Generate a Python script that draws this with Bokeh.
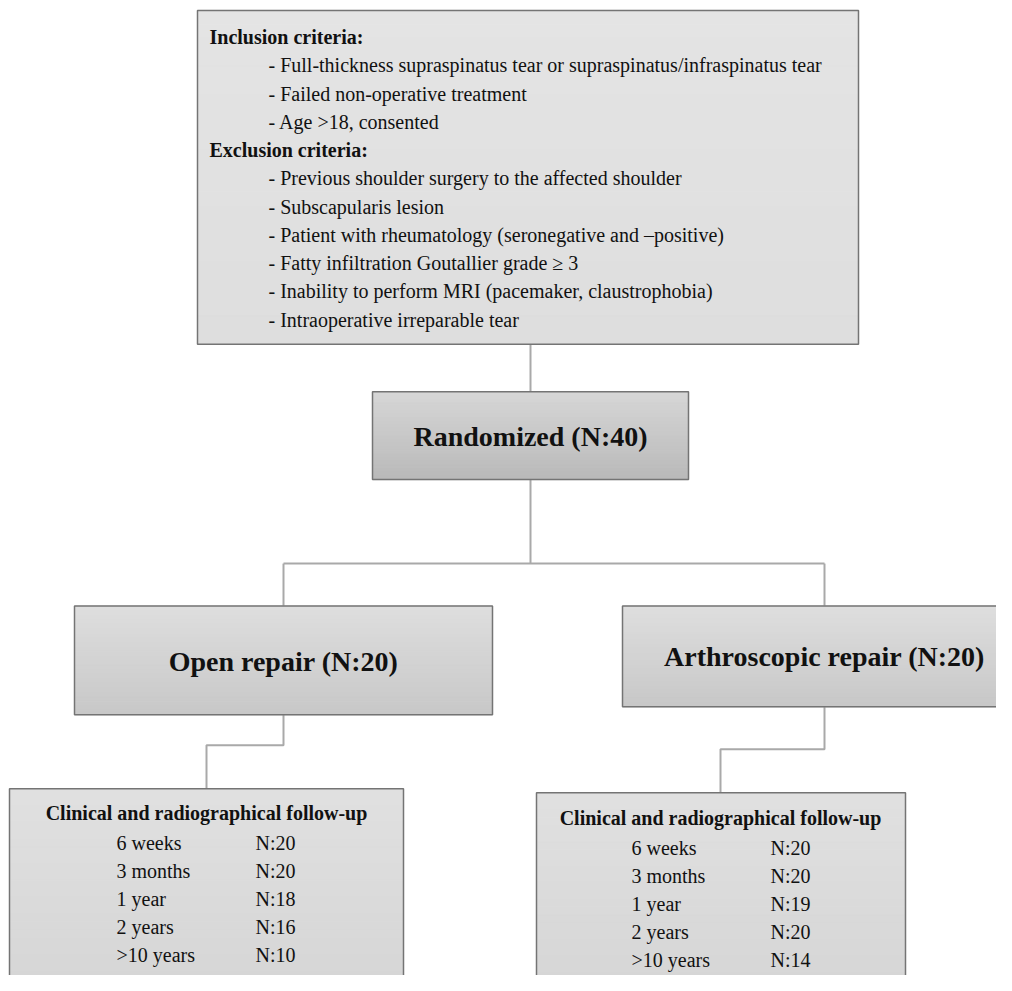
import numpy as np
from bokeh.plotting import figure
from bokeh.models import Range1d
from bokeh.core.properties import value
from bokeh.embed import file_html
from bokeh.resources import INLINE

# ---- data (texts and counts) ----
inclusion_title = "Inclusion criteria:"
inclusion_items = [
    "- Full-thickness supraspinatus tear or supraspinatus/infraspinatus tear",
    "- Failed non-operative treatment",
    "- Age >18, consented",
]
exclusion_title = "Exclusion criteria:"
exclusion_items = [
    "- Previous shoulder surgery to the affected shoulder",
    "- Subscapularis lesion",
    "- Patient with rheumatology (seronegative and \u2013positive)",
    "- Fatty infiltration Goutallier grade \u2265 3",
    "- Inability to perform MRI (pacemaker, claustrophobia)",
    "- Intraoperative irreparable tear",
]
randomized_n = 40
groups = ["Open repair", "Arthroscopic repair"]
group_n = [20, 20]
followup_title = "Clinical and radiographical follow-up"
timepoints = ["6 weeks", "3 months", "1 year", "2 years", ">10 years"]
open_n = [20, 20, 18, 16, 10]
arthro_n = [20, 20, 19, 20, 14]

FONT = value("Liberation Serif")

p = figure(width=996, height=975, output_backend="svg", toolbar_location=None,
           x_range=Range1d(0, 996), y_range=Range1d(987, 0),
           min_border=0, outline_line_color=None)
p.axis.visible = False
p.grid.visible = False
p.background_fill_color = "white"


def grad_box(l, r, t, b, c_top, c_bot, n=24):
    edges = np.linspace(t, b, n + 1)
    cols = []
    for i in range(n):
        f = i / (n - 1)
        v = int(round(c_top + (c_bot - c_top) * f))
        cols.append("#%02x%02x%02x" % (v, v, v))
    p.quad(left=[l] * n, right=[r] * n, top=list(edges[:-1]), bottom=list(edges[1:]),
           fill_color=cols, line_color=cols, line_width=1)
    p.quad(left=[l], right=[r], top=[t], bottom=[b], fill_alpha=0,
           line_color="#747474", line_width=1.5)


CONN = "#a9a9a9"
# connectors
p.line([530, 530], [348, 396], line_color=CONN, line_width=2)
p.line([530, 530], [485, 570], line_color=CONN, line_width=2)
p.line([283, 824], [570, 570], line_color=CONN, line_width=2)
p.line([283, 283], [570, 613], line_color=CONN, line_width=2)
p.line([824, 824], [570, 613], line_color=CONN, line_width=2)
p.line([283, 283, 206, 206], [723, 754, 754, 798], line_color=CONN, line_width=2)
p.line([824, 824, 720, 720], [715, 758, 758, 803], line_color=CONN, line_width=2)

# boxes
grad_box(197, 858, 10, 348, 228, 222)
grad_box(372, 688, 396, 485, 214, 186)
grad_box(74, 492, 613, 723, 222, 200)
grad_box(622, 1026, 613, 715, 222, 200)
grad_box(9, 403, 798, 1000, 224, 214)
grad_box(536, 905, 802, 1000, 224, 214)

# top box texts
step = 28.6
ys = [37 + i * step for i in range(11)]
p.text(x=[209], y=[ys[0]], text=[inclusion_title], text_font=FONT, text_font_size="20px",
       text_font_style="bold", text_baseline="middle", text_color="#111111")
p.text(x=[268] * 3, y=ys[1:4], text=inclusion_items, text_font=FONT, text_font_size="20px",
       text_baseline="middle", text_color="#111111")
p.text(x=[209], y=[ys[4]], text=[exclusion_title], text_font=FONT, text_font_size="20px",
       text_font_style="bold", text_baseline="middle", text_color="#111111")
p.text(x=[268] * 6, y=ys[5:11], text=exclusion_items, text_font=FONT, text_font_size="20px",
       text_baseline="middle", text_color="#111111")

# randomized and groups
p.text(x=[530], y=[441], text=["Randomized (N:%d)" % randomized_n], text_font=FONT,
       text_font_size="28px", text_font_style="bold", text_align="center",
       text_baseline="middle", text_color="#111111")
p.text(x=[283, 824], y=[669, 664], text=["%s (N:%d)" % (g, n) for g, n in zip(groups, group_n)],
       text_font=FONT, text_font_size="28px", text_font_style="bold", text_align="center",
       text_baseline="middle", text_color="#111111")

# follow-up boxes
for cx, ty, x1, x2, ns in [(206, 823, 116, 255, open_n), (720, 828, 631, 770, arthro_n)]:
    p.text(x=[cx], y=[ty], text=[followup_title], text_font=FONT, text_font_size="20px",
           text_font_style="bold", text_align="center", text_baseline="middle",
           text_color="#111111")
    rys = [ty + 29.5 + i * 28.5 for i in range(len(timepoints))]
    p.text(x=[x1] * len(timepoints), y=rys, text=timepoints, text_font=FONT,
           text_font_size="20px", text_baseline="middle", text_color="#111111")
    p.text(x=[x2] * len(ns), y=rys, text=["N:%d" % n for n in ns], text_font=FONT,
           text_font_size="20px", text_baseline="middle", text_color="#111111")

open("out.html", "w").write(file_html(p, INLINE))
